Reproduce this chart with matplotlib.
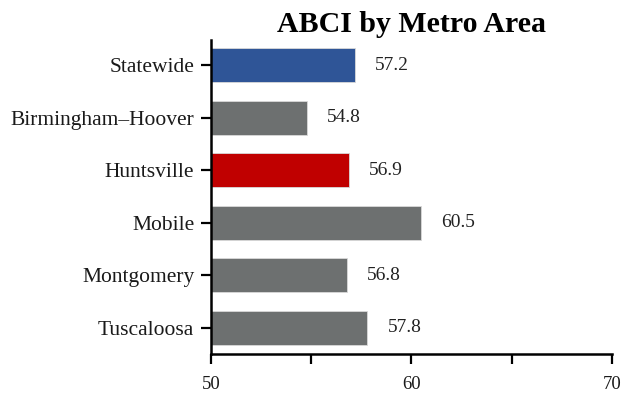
import matplotlib
matplotlib.use("Agg")
import matplotlib.pyplot as plt

categories = ["Statewide", "Birmingham\u2013Hoover", "Huntsville", "Mobile", "Montgomery", "Tuscaloosa"]
values = [57.2, 54.8, 56.9, 60.5, 56.8, 57.8]
bar_colors = ["#2F5597", "#6D7070", "#C00000", "#6D7070", "#6D7070", "#6D7070"]
xticks = [50, 55, 60, 65, 70]
xticklabels = ["50", "", "60", "", "70"]

plt.rcParams['font.family'] = ['Liberation Serif', 'DejaVu Serif']

fig = plt.figure(figsize=(6.25, 3.93), dpi=100)
ax = fig.add_axes([0.3376, 0.0992, 0.979 - 0.3376, 0.898 - 0.0992])

y = list(range(len(categories)))
base = 50
ax.barh(y, [v - base for v in values], left=base, height=0.65, color=bar_colors,
        edgecolor="#d9d9d9", linewidth=0.6)
for yi, v in zip(y, values):
    ax.text(v + 1.0, yi, f"{v:.1f}", va="center", ha="left", fontsize=14, color="#222222")

ax.set_xlim(50, 70)
ax.set_ylim(5.5, -0.48)
ax.set_yticks(y)
ax.set_yticklabels(categories, fontsize=15.5, color="#1a1a1a")
ax.set_xticks(xticks)
ax.set_xticklabels(xticklabels, fontsize=13.5, color="#1a1a1a")
ax.tick_params(axis="x", direction="out", length=7, width=1.6, pad=9)
ax.tick_params(axis="y", direction="out", length=7, width=1.6, pad=5)
for s in ["top", "right"]:
    ax.spines[s].set_visible(False)
for s in ["left", "bottom"]:
    ax.spines[s].set_linewidth(1.8)

fig.text(0.658, 1 - 32 / 393, "ABCI by Metro Area", ha="center", va="baseline",
         fontsize=21.5, fontweight="bold")

fig.savefig("out.png", dpi=100)
